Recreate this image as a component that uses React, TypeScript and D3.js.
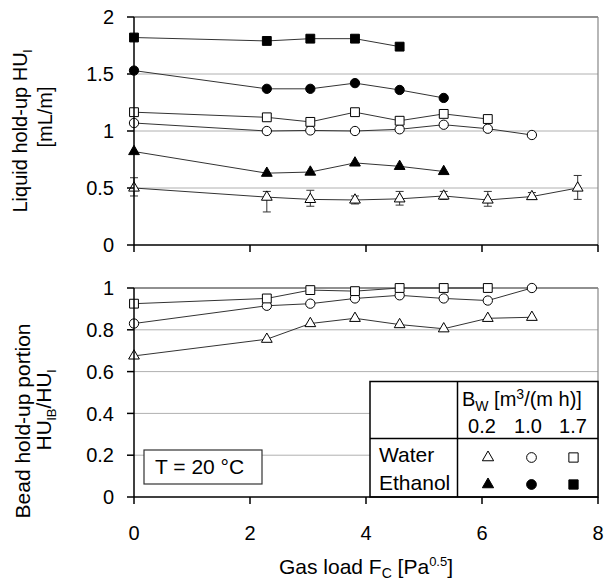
import React from "react";
import * as d3 from "d3";

// ---- data ----
const gasLoad = [0, 2.29, 3.04, 3.81, 4.58, 5.34, 6.1, 6.86, 7.65];
const xTicks = [0, 2, 4, 6, 8];
const topTicks = [0, 0.5, 1, 1.5, 2];
const botTicks = [0, 0.2, 0.4, 0.6, 0.8, 1];

// Liquid hold-up HU_l [mL/m]
const huWater02 = [0.5, 0.42, 0.4, 0.395, 0.405, 0.43, 0.395, 0.425, 0.5];
const huWater02Low = [0.43, 0.29, 0.34, 0.36, 0.35, 0.4, 0.34, 0.4, 0.4];
const huWater02High = [0.59, 0.47, 0.48, 0.43, 0.47, 0.47, 0.47, 0.46, 0.61];
const huWater10 = [1.07, 1.0, 1.005, 1.0, 1.015, 1.055, 1.02, 0.965];
const huWater17 = [1.165, 1.12, 1.08, 1.165, 1.09, 1.15, 1.105];
const huEth02 = [0.82, 0.63, 0.64, 0.72, 0.69, 0.645];
const huEth10 = [1.53, 1.37, 1.37, 1.42, 1.36, 1.29];
const huEth17 = [1.82, 1.79, 1.81, 1.81, 1.74];

// Bead hold-up portion HU_lB/HU_l
const bpWater02 = [0.675, 0.755, 0.83, 0.855, 0.825, 0.805, 0.855, 0.86];
const bpWater10 = [0.83, 0.915, 0.925, 0.95, 0.965, 0.95, 0.94, 1.0];
const bpWater17 = [0.925, 0.95, 0.99, 0.985, 1.0, 1.0, 1.0];

const legendCols = ["0.2", "1.0", "1.7"];
const legendRows = ["Water", "Ethanol"];

type Shape = "triangle" | "circle" | "square";

const FONT = "'Liberation Sans', Arial, sans-serif";

const x = d3.scaleLinear().domain([0, 8]).range([134, 598]);
const yTop = d3.scaleLinear().domain([0, 2]).range([245, 17]);
const yBot = d3.scaleLinear().domain([0, 1]).range([497, 288]);

const symType: Record<Shape, d3.SymbolType> = {
  triangle: d3.symbolTriangle,
  circle: d3.symbolCircle,
  square: d3.symbolSquare,
};
const symSize: Record<Shape, number> = { triangle: 50, circle: 68, square: 78 };

function Marker({ cx, cy, shape, filled, scale = 1 }: { cx: number; cy: number; shape: Shape; filled: boolean; scale?: number }) {
  const d = d3.symbol().type(symType[shape]).size(symSize[shape] * scale)()!;
  return (
    <path d={d} transform={`translate(${cx},${cy})`} fill={filled ? "#000" : "#fff"} stroke="#000" strokeWidth={1} />
  );
}

function Series({ vals, y, shape, filled }: { vals: number[]; y: d3.ScaleLinear<number, number>; shape: Shape; filled: boolean }) {
  const pts = vals.map((v, i) => [x(gasLoad[i]), y(v)] as [number, number]);
  const line = d3.line()(pts)!;
  return (
    <g>
      <path d={line} fill="none" stroke="#333" strokeWidth={1} />
      {pts.map((p, i) => (
        <Marker key={i} cx={p[0]} cy={p[1]} shape={shape} filled={filled} />
      ))}
    </g>
  );
}

export default function App() {
  const xL = x(0), xR = x(8);
  return (
    <svg width={607} height={581} style={{ position: "absolute", left: 0, top: 0, background: "#fff" }} fontFamily={FONT}>
      <rect width={607} height={581} fill="#fff" />
      {/* ---------- top panel ---------- */}
      {topTicks.slice(1, -1).map((t) => (
        <line key={t} x1={xL} x2={xR} y1={yTop(t)} y2={yTop(t)} stroke="#b0b0b0" strokeWidth={1} />
      ))}
      <line x1={xL} x2={xR} y1={yTop(2)} y2={yTop(2)} stroke="#222" strokeWidth={1.2} />
      <line x1={xR} x2={xR} y1={yTop(2)} y2={yTop(0)} stroke="#888" strokeWidth={1.2} />
      {/* error bars */}
      {huWater02.map((v, i) => (
        <g key={i} stroke="#333" strokeWidth={1}>
          <line x1={x(gasLoad[i])} x2={x(gasLoad[i])} y1={yTop(huWater02Low[i])} y2={yTop(huWater02High[i])} />
          <line x1={x(gasLoad[i]) - 4} x2={x(gasLoad[i]) + 4} y1={yTop(huWater02Low[i])} y2={yTop(huWater02Low[i])} />
          <line x1={x(gasLoad[i]) - 4} x2={x(gasLoad[i]) + 4} y1={yTop(huWater02High[i])} y2={yTop(huWater02High[i])} />
        </g>
      ))}
      <Series vals={huWater02} y={yTop} shape="triangle" filled={false} />
      <Series vals={huWater10} y={yTop} shape="circle" filled={false} />
      <Series vals={huWater17} y={yTop} shape="square" filled={false} />
      <Series vals={huEth02} y={yTop} shape="triangle" filled={true} />
      <Series vals={huEth10} y={yTop} shape="circle" filled={true} />
      <Series vals={huEth17} y={yTop} shape="square" filled={true} />
      {/* axes */}
      <line x1={xL} x2={xL} y1={yTop(2)} y2={yTop(0)} stroke="#000" strokeWidth={1.5} />
      <line x1={xL} x2={xR} y1={yTop(0)} y2={yTop(0)} stroke="#000" strokeWidth={1.5} />
      {xTicks.map((t) => (
        <line key={t} x1={x(t)} x2={x(t)} y1={yTop(0)} y2={yTop(0) + 7} stroke="#000" strokeWidth={1.5} />
      ))}
      {topTicks.map((t) => (
        <g key={t}>
          <line x1={xL - 7} x2={xL} y1={yTop(t)} y2={yTop(t)} stroke="#000" strokeWidth={1.5} />
          <text x={114} y={yTop(t)} dy="0.36em" textAnchor="end" fontSize={20}>{d3.format("~g")(t)}</text>
        </g>
      ))}
      <text transform={`translate(27,131) rotate(-90)`} textAnchor="middle" fontSize={20}>
        Liquid hold-up HU<tspan fontSize={13} dy={5}>l</tspan>
      </text>
      <text transform={`translate(52,117) rotate(-90)`} textAnchor="middle" fontSize={20}>[mL/m]</text>

      {/* ---------- bottom panel ---------- */}
      {botTicks.slice(1, -1).map((t) => (
        <line key={t} x1={xL} x2={xR} y1={yBot(t)} y2={yBot(t)} stroke="#b0b0b0" strokeWidth={1} />
      ))}
      <line x1={xL} x2={xR} y1={yBot(1)} y2={yBot(1)} stroke="#222" strokeWidth={1.2} />
      <line x1={xR} x2={xR} y1={yBot(1)} y2={yBot(0)} stroke="#888" strokeWidth={1.2} />
      <Series vals={bpWater02} y={yBot} shape="triangle" filled={false} />
      <Series vals={bpWater10} y={yBot} shape="circle" filled={false} />
      <Series vals={bpWater17} y={yBot} shape="square" filled={false} />

      {/* T box */}
      <rect x={144} y={450} width={118} height={34} fill="#fff" stroke="#333" strokeWidth={1.2} />
      <text x={155} y={474} fontSize={21}>T = 20 °C</text>

      {/* legend table */}
      <rect x={370} y={381.5} width={xR - 370} height={yBot(0) - 381.5} fill="#fff" stroke="#000" strokeWidth={1.5} />
      <line x1={457.5} x2={457.5} y1={381.5} y2={yBot(0)} stroke="#000" strokeWidth={1.5} />
      <line x1={370} x2={xR} y1={438.5} y2={438.5} stroke="#000" strokeWidth={1.5} />
      <text x={462} y={406} fontSize={20}>
        B<tspan fontSize={14} dy={5}>W</tspan>
        <tspan dy={-5}> [m</tspan>
        <tspan fontSize={14} dy={-7}>3</tspan>
        <tspan dy={7}>/(m h)]</tspan>
      </text>
      {legendCols.map((c, i) => (
        <text key={c} x={[482, 528, 573][i]} y={433} textAnchor="middle" fontSize={20}>{c}</text>
      ))}
      {legendRows.map((r, j) => (
        <g key={r}>
          <text x={379} y={[462, 490][j]} fontSize={21}>{r}</text>
          {(["triangle", "circle", "square"] as Shape[]).map((s, i) => (
            <Marker key={s} cx={[488, 531.5, 573.5][i]} cy={[457.5, 484.5][j]} shape={s} filled={j === 1} scale={1.1} />
          ))}
        </g>
      ))}

      {/* axes */}
      <line x1={xL} x2={xL} y1={yBot(1)} y2={yBot(0)} stroke="#000" strokeWidth={1.5} />
      <line x1={xL} x2={xR} y1={yBot(0)} y2={yBot(0)} stroke="#000" strokeWidth={1.5} />
      {xTicks.map((t) => (
        <g key={t}>
          <line x1={x(t)} x2={x(t)} y1={yBot(0)} y2={yBot(0) + 7} stroke="#000" strokeWidth={1.5} />
          <text x={x(t)} y={540} textAnchor="middle" fontSize={20}>{t}</text>
        </g>
      ))}
      {botTicks.map((t) => (
        <g key={t}>
          <line x1={xL - 7} x2={xL} y1={yBot(t)} y2={yBot(t)} stroke="#000" strokeWidth={1.5} />
          <text x={114} y={yBot(t)} dy="0.36em" textAnchor="end" fontSize={20}>{d3.format("~g")(t)}</text>
        </g>
      ))}
      <text transform={`translate(30,421) rotate(-90)`} textAnchor="middle" fontSize={21}>Bead hold-up portion</text>
      <text transform={`translate(51,410) rotate(-90)`} textAnchor="middle" fontSize={21}>
        HU<tspan fontSize={13} dy={5}>lB</tspan>
        <tspan dy={-5}>/HU</tspan>
        <tspan fontSize={13} dy={5}>l</tspan>
      </text>
      <text x={366} y={574} textAnchor="middle" fontSize={21}>
        Gas load F<tspan fontSize={14} dy={4}>C</tspan>
        <tspan dy={-4}> [Pa</tspan>
        <tspan fontSize={13} dy={-8}>0.5</tspan>
        <tspan dy={8}>]</tspan>
      </text>
    </svg>
  );
}
